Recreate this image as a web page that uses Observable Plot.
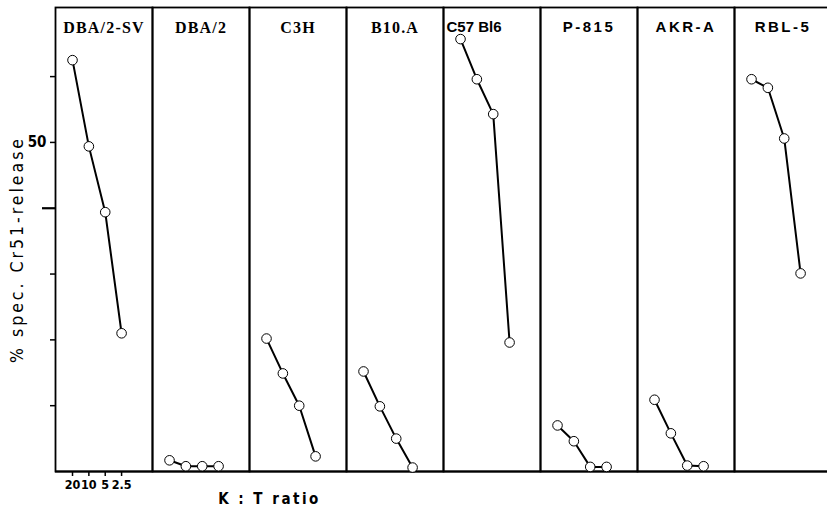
<!DOCTYPE html>
<html>
<head>
<meta charset="utf-8">
<script src="https://cdn.jsdelivr.net/npm/d3@7"></script>
<script src="https://cdn.jsdelivr.net/npm/@observablehq/plot@0.6"></script>
<style>
  html, body { margin: 0; padding: 0; background: #fff; overflow: hidden; }
  #chart { width: 827px; height: 507px; overflow: hidden; }
  #chart svg { max-width: none !important; }
  .ttl-sans text { letter-spacing: 2.5px; }
  .ttl-serif text { letter-spacing: 1.2px; }
  .ylab text { letter-spacing: 3px; }
  .xlab text { letter-spacing: 2.5px; }
</style>
</head>
<body>
<div id="chart"></div>
<script>
// ---- data ----
const strains = ["DBA/2-SV", "DBA/2", "C3H", "B10.A", "C57 Bl6", "P-815", "AKR-A", "RBL-5"];
const ratioLabels = ["20", "10", "5", "2.5"];
const dba2sv = [62.5, 49.4, 39.4, 21.0];
const dba2   = [1.7, 0.8, 0.8, 0.8];
const c3h    = [20.2, 14.9, 10.0, 2.3];
const b10a   = [15.2, 9.9, 5.0, 0.6];
const c57bl6 = [65.7, 59.6, 54.3, 19.6];
const p815   = [7.0, 4.6, 0.7, 0.7];
const akra   = [10.9, 5.8, 0.9, 0.8];
const rbl5   = [59.6, 58.3, 50.6, 30.1];
const yTicks = [10, 20, 30, 40, 50, 60];
const yLabel = "% spec. Cr51-release";
const xLabel = "K : T ratio";

const series = [dba2sv, dba2, c3h, b10a, c57bl6, p815, akra, rbl5];
const rows = [];
strains.forEach((s, k) => series[k].forEach((v, i) => rows.push({strain: s, i, ratio: ratioLabels[i], v})));

const serifStrains = strains.slice(0, 4);
const sansStrains = strains.slice(4);
const first = strains[0];

const plot = Plot.plot({
  width: 832,
  height: 507,
  marginLeft: 53,
  marginRight: 0,
  marginTop: 7,
  marginBottom: 36,
  style: {fontFamily: "'DejaVu Sans Condensed', 'DejaVu Sans', sans-serif", fontSize: "13px", color: "#000", background: "#fff"},
  fx: {domain: strains, padding: 0, axis: null},
  x: {domain: [-1.04, 4.89], axis: null},
  y: {domain: [0, 70.5], axis: null},
  marks: [
    Plot.frame({stroke: "#000", strokeWidth: 1.8}),
    Plot.ruleY([0], {stroke: "#000", strokeWidth: 2.2}),
    Plot.axisY({ticks: yTicks.filter(t => t !== 40), tickSize: 5, tickPadding: 4, strokeWidth: 1.5,
      tickFormat: d => d === 50 ? String(d) : "", fontSize: 15, fontWeight: "bold", label: null}),
    Plot.axisY({ticks: yTicks.filter(t => t === 40), tickSize: 13, strokeWidth: 2.2, tickFormat: () => "", label: null}),
    Plot.axisX({ticks: [0, 1, 2, 3], tickFormat: i => ratioLabels[i], facetAnchor: "left", tickSize: 5,
      tickPadding: 4, strokeWidth: 1.5, fontSize: 12.5, fontWeight: "bold", label: null}),
    Plot.line(rows, {x: "i", y: "v", fx: "strain", stroke: "#000", strokeWidth: 2}),
    Plot.dot(rows, {x: "i", y: "v", fx: "strain", r: 4.8, fill: "#fff", stroke: "#000", strokeWidth: 1}),
    Plot.text(serifStrains, {fx: d => d, text: d => d, frameAnchor: "top", dy: 20, lineAnchor: "middle",
      fontFamily: "'Liberation Serif', 'DejaVu Serif', serif", fontWeight: "bold", fontSize: 16, fill: "#000", className: "ttl-serif"}),
    Plot.text(sansStrains.filter(s => s !== "C57 Bl6"), {fx: d => d, text: d => d, frameAnchor: "top", dy: 20, lineAnchor: "middle",
      fontFamily: "'Liberation Sans', Arial, sans-serif", fontWeight: "bold", fontSize: 15, fill: "#000", className: "ttl-sans"}),
    Plot.text(sansStrains.filter(s => s === "C57 Bl6"), {fx: d => d, text: d => d, frameAnchor: "top-left", dx: 3, dy: 20, lineAnchor: "middle", textAnchor: "start",
      fontFamily: "'Liberation Sans', Arial, sans-serif", fontWeight: "bold", fontSize: 15, fill: "#000"}),
    Plot.text([yLabel], {fx: () => first, text: d => d, frameAnchor: "left", dx: -38, dy: 10, rotate: -90, textAnchor: "middle", lineAnchor: "middle",
      fontFamily: "'DejaVu Sans Condensed', 'DejaVu Sans', sans-serif", fontWeight: "normal", fontSize: 17.5, fill: "#000", className: "ylab"}),
    Plot.text([xLabel], {fx: () => first, text: d => d, frameAnchor: "bottom-left", dx: 214, dy: 28, textAnchor: "middle", lineAnchor: "middle",
      fontFamily: "'DejaVu Sans Condensed', 'DejaVu Sans', sans-serif", fontWeight: "bold", fontSize: 15, fill: "#000", className: "xlab"})
  ]
});
document.getElementById("chart").appendChild(plot);
</script>
</body>
</html>
